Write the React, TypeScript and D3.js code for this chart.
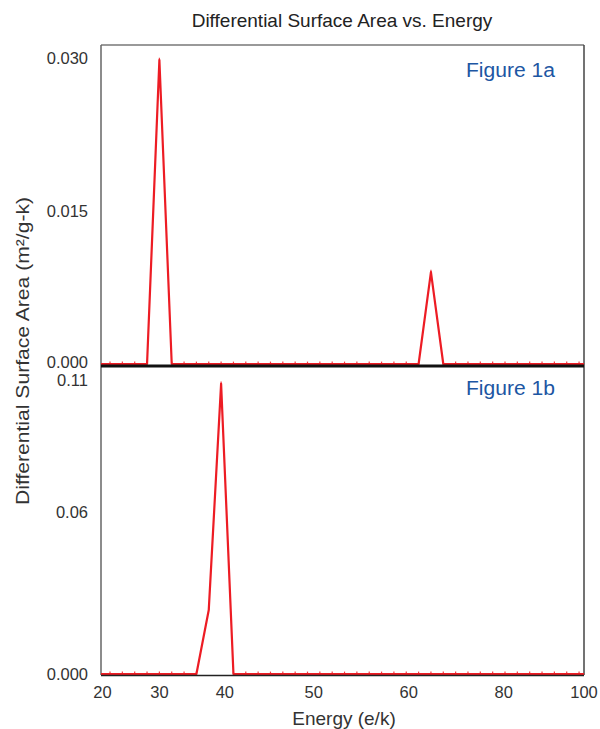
import React from "react";
import * as d3 from "d3";

// evenly spaced energy bins, sample index 0..40
const fig1a = [
  0, 0, 0, 0, 0, 0.0298, 0, 0, 0, 0,
  0, 0, 0, 0, 0, 0, 0, 0, 0, 0,
  0, 0, 0, 0, 0, 0, 0, 0.009, 0, 0,
  0, 0, 0, 0, 0, 0, 0, 0, 0, 0,
  0,
];
const fig1b = [
  0, 0, 0, 0, 0, 0, 0, 0, 0, 0.0238,
  0.1078, 0, 0, 0, 0, 0, 0, 0, 0, 0,
  0, 0, 0, 0, 0, 0, 0, 0, 0, 0,
  0, 0, 0, 0, 0, 0, 0, 0, 0, 0,
  0,
];

// energy labels and the bin (sample index) each label sits on
const energyTicks = [20, 30, 40, 50, 60, 80, 100];
const energyTickSample = [0.27, 5, 10.3, 17.5, 25.2, 32.9, 39.4];

const fig1aTicks = [0, 0.015, 0.03];
const fig1aTickLabels = ["0.000", "0.015", "0.030"];
const fig1bTicks = [0, 0.06, 0.11];
const fig1bTickLabels = ["0.000", "0.06", "0.11"];

const W = 600;
const H = 729;
const left = 101;
const right = 584;
const top = 45;
const split = 366;
const bottom = 675;

const font = "'Liberation Sans', Arial, sans-serif";
const red = "#ed1c24";
const textColor = "#333";

export default function App() {
  const x = d3
    .scaleLinear()
    .domain([energyTickSample[0], energyTickSample[energyTickSample.length - 1]])
    .range([left, right]);
  const energyX = d3.scaleLinear().domain(energyTicks).range(energyTickSample.map((s) => x(s)));

  const y1 = d3.scaleLinear().domain([0, 0.03]).range([364, 58]);
  const y2 = d3.scaleLinear().domain([0, 0.11]).range([674, 378]);

  const panels = [
    { data: fig1a, y: y1, ticks: fig1aTicks, labels: fig1aTickLabels, name: "Figure 1a", nameY: 77, zeroShift: -2 },
    { data: fig1b, y: y2, ticks: fig1bTicks, labels: fig1bTickLabels, name: "Figure 1b", nameY: 395, zeroShift: 0 },
  ];

  return (
    <svg
      width={W}
      height={H}
      style={{ position: "absolute", left: 0, top: 0, background: "#fff" }}
      fontFamily={font}
    >
      <defs>
        <clipPath id="plot-clip">
          <rect x={left} y={top} width={right - left} height={bottom - top} />
        </clipPath>
      </defs>

      {/* title */}
      <text x={342} y={27} textAnchor="middle" fontSize={19} fill="#222">
        Differential Surface Area vs. Energy
      </text>

      {/* frame */}
      <line x1={left} x2={right} y1={top} y2={top} stroke="#777" strokeWidth={1.5} />
      <line x1={left} x2={left} y1={top} y2={bottom} stroke="#666" strokeWidth={1.5} />
      <line x1={right} x2={right} y1={top} y2={bottom} stroke="#444" strokeWidth={1.5} />

      {panels.map((p, pi) => {
        const line = d3
          .line<number>()
          .x((_, i) => x(i))
          .y((d) => p.y(d));
        return (
          <g key={pi}>
            <g clipPath="url(#plot-clip)">
              <path
                d={line(p.data) ?? ""}
                fill="none"
                stroke={red}
                strokeWidth={2.2}
                strokeLinejoin="round"
              />
              {p.data.map((d, i) => (
                <line
                  key={i}
                  x1={x(i)}
                  x2={x(i)}
                  y1={p.y(d)}
                  y2={p.y(d) - 2.4}
                  stroke={red}
                  strokeWidth={1.2}
                  strokeOpacity={0.85}
                />
              ))}
            </g>
            {p.ticks.map((t, i) => (
              <text
                key={i}
                x={88}
                y={p.y(t) + (t === 0 ? p.zeroShift : i === p.ticks.length - 1 && pi === 1 ? 2 : 0)}
                dy="0.36em"
                textAnchor="end"
                fontSize={16.5}
                fill={textColor}
              >
                {p.labels[i]}
              </text>
            ))}
            <text
              x={466}
              y={p.nameY}
              fontSize={19.5}
              fill="#1d56a3"
              textLength={89}
              lengthAdjust="spacingAndGlyphs"
            >
              {p.name}
            </text>
          </g>
        );
      })}

      {/* panel divider and bottom axis line */}
      <line x1={left} x2={right} y1={split} y2={split} stroke="#111" strokeWidth={3} />
      <line x1={left} x2={right} y1={bottom + 0.5} y2={bottom + 0.5} stroke="#222" strokeWidth={1.6} />

      {/* x tick labels */}
      {energyTicks.map((t) => (
        <text
          key={t}
          x={energyX(t) + (t === 20 ? 1.5 : 0)}
          y={698}
          textAnchor="middle"
          fontSize={16.5}
          fill={textColor}
        >
          {t}
        </text>
      ))}

      <text x={344} y={725} textAnchor="middle" fontSize={19} fill={textColor}>
        Energy (e/k)
      </text>

      <text
        transform={`translate(29, 351) rotate(-90)`}
        textAnchor="middle"
        fontSize={19}
        fill={textColor}
        textLength={308}
        lengthAdjust="spacingAndGlyphs"
      >
        Differential Surface Area (m²/g-k)
      </text>
    </svg>
  );
}
